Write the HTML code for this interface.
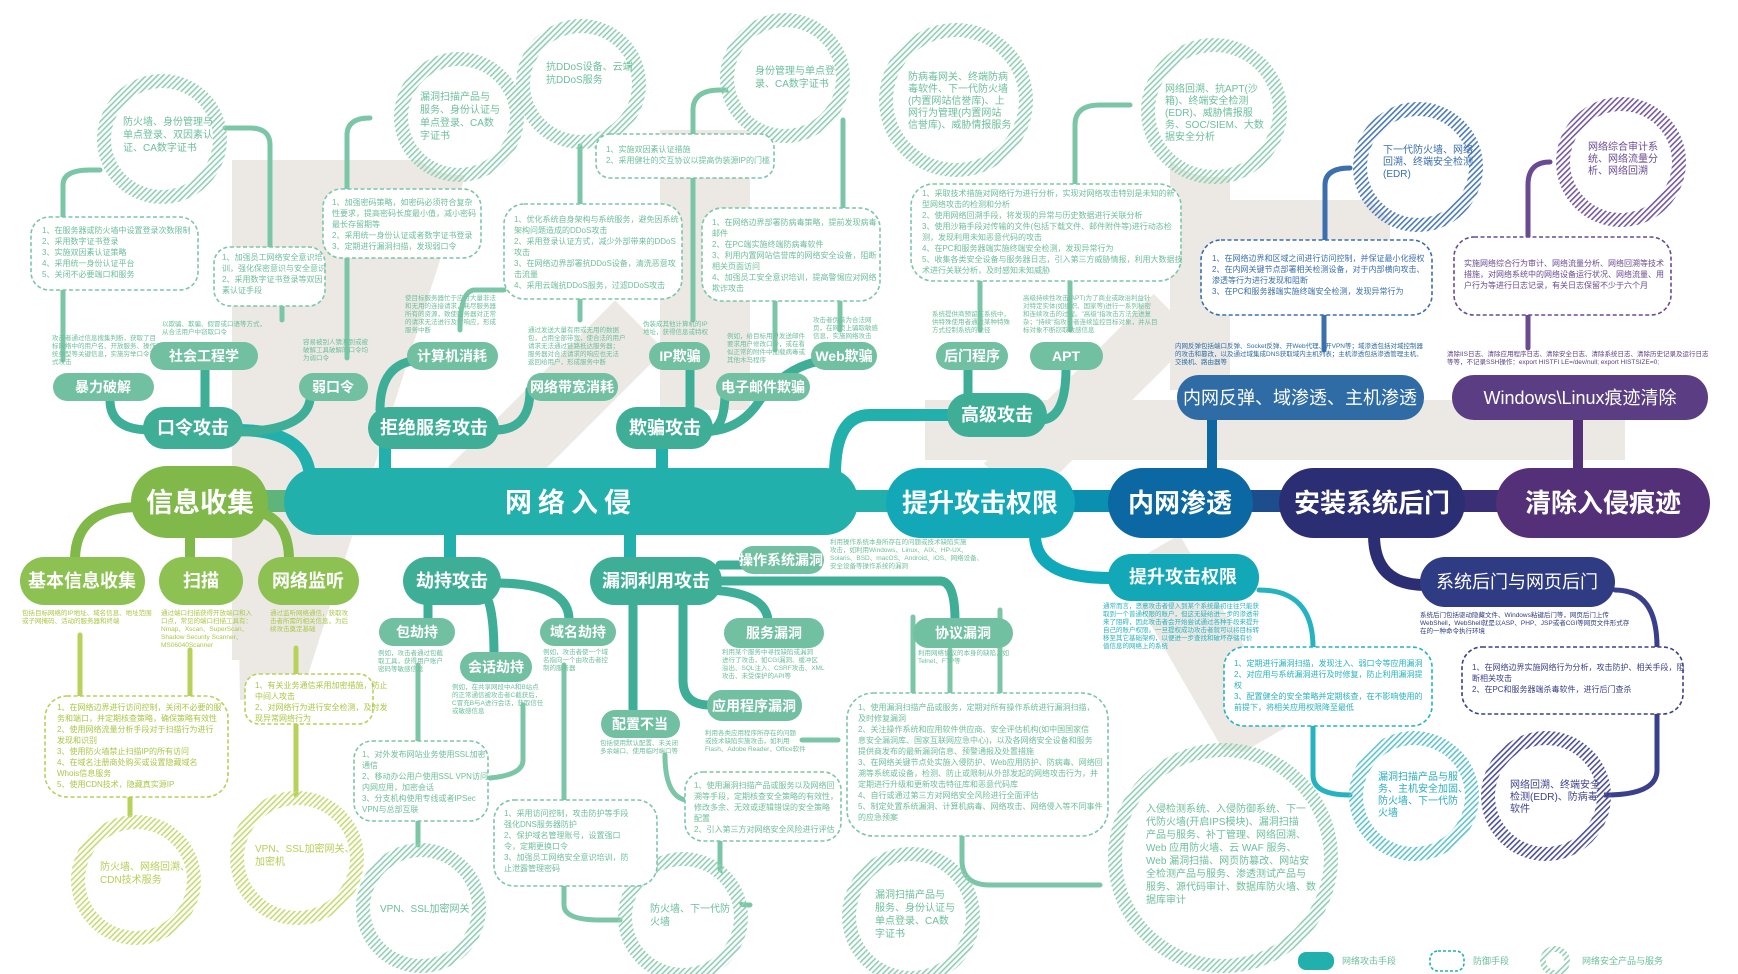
<!DOCTYPE html>
<html><head><meta charset="utf-8"><style>
html,body{margin:0;padding:0;background:#fff;}
svg{display:block;font-family:"Liberation Sans","Noto Sans CJK SC",sans-serif;}
.w{fill:#fff;text-anchor:middle;dominant-baseline:central;}
.d{font-size:6.5px;}
.b{font-size:8px;}
.c{font-size:10px;}
</style></head><body>
<svg width="1738" height="974" viewBox="0 0 1738 974" xmlns="http://www.w3.org/2000/svg">
<defs>
<pattern id="pg" width="4" height="4" patternUnits="userSpaceOnUse" patternTransform="rotate(45)"><rect width="1.6" height="4" fill="#8fcfb4"/></pattern>
<pattern id="py" width="4" height="4" patternUnits="userSpaceOnUse" patternTransform="rotate(45)"><rect width="1.6" height="4" fill="#c5db72"/></pattern>
<pattern id="pc" width="4" height="4" patternUnits="userSpaceOnUse" patternTransform="rotate(45)"><rect width="1.6" height="4" fill="#5fc3cc"/></pattern>
<pattern id="pb" width="4" height="4" patternUnits="userSpaceOnUse" patternTransform="rotate(45)"><rect width="1.6" height="4" fill="#4a7ab8"/></pattern>
<pattern id="pp" width="4" height="4" patternUnits="userSpaceOnUse" patternTransform="rotate(45)"><rect width="1.6" height="4" fill="#7557a0"/></pattern>
<pattern id="pn" width="4" height="4" patternUnits="userSpaceOnUse" patternTransform="rotate(45)"><rect width="1.6" height="4" fill="#4c4f98"/></pattern>
</defs>

<g fill="#ece9e5">
<rect x="232" y="160" width="60" height="500"/>
<polygon points="232,160 470,160 440,260 300,700 240,700"/>
<rect x="660" y="130" width="90" height="280"/>
<rect x="520" y="290" width="70" height="240" transform="rotate(45 555 410)"/>
<rect x="1170" y="130" width="60" height="260"/>
<rect x="1160" y="200" width="230" height="60"/>
<rect x="925" y="400" width="700" height="60"/>
<rect x="1060" y="280" width="60" height="240" transform="rotate(45 1090 400)"/>
<rect x="1170" y="540" width="70" height="220" transform="rotate(-30 1200 650)"/>
</g>

<g fill="none" stroke-linecap="round">
<rect x="850" y="490" width="660" height="22" fill="#22b0ad" stroke="none"/>
<rect x="1070" y="490" width="50" height="22" fill="#0b8fb0" stroke="none"/>
<rect x="1240" y="490" width="50" height="22" fill="#1e4d8e" stroke="none"/>
<rect x="1455" y="490" width="50" height="22" fill="#3a2f76" stroke="none"/>
<rect x="250" y="490" width="50" height="22" fill="#5fb47a" stroke="none"/>
<path d="M238 430 Q305 430 310 475" stroke="#22b0ad" stroke-width="12"/>
<path d="M385 440 L385 475" stroke="#22b0ad" stroke-width="12"/>
<path d="M662 440 L662 475" stroke="#22b0ad" stroke-width="12"/>
<path d="M950 415 L870 415 Q835 415 835 475" stroke="#22b0ad" stroke-width="12"/>
<path d="M1212 415 L1212 475" stroke="#0b68a2" stroke-width="10"/>
<path d="M1578 415 L1578 475" stroke="#533078" stroke-width="10"/>
<g stroke="#3fae97" stroke-width="9">
<path d="M110 400 Q110 430 150 430"/>
<path d="M205 368 L205 412"/>
<path d="M310 400 Q305 430 240 432"/>
<path d="M420 360 Q380 362 380 410"/>
<path d="M530 390 Q530 430 495 430"/>
<path d="M690 368 L690 412"/>
<path d="M725 392 Q725 432 705 432"/>
<path d="M830 360 Q790 362 760 400 Q740 432 700 432"/>
<path d="M968 368 L968 400"/>
<path d="M1066 368 Q1066 420 1040 420"/>
</g>
<path d="M140 507 Q75 507 75 560" stroke="#80b94a" stroke-width="10"/>
<path d="M190 535 L190 560" stroke="#80b94a" stroke-width="10"/>
<path d="M250 510 Q289 515 289 560" stroke="#80b94a" stroke-width="10"/>
<path d="M450 535 L450 560" stroke="#22b0ad" stroke-width="12"/>
<path d="M630 535 L630 560" stroke="#22b0ad" stroke-width="12"/>
<g stroke="#3fae97" stroke-width="9">
<path d="M428 600 L428 620"/>
<path d="M480 590 Q494 595 494 655"/>
<path d="M495 583 Q569 583 569 620"/>
<path d="M720 565 L745 565"/>
<path d="M720 581 L940 581 Q955 581 955 620"/>
<path d="M700 590 Q765 590 768 620"/>
<path d="M683 600 L683 680 Q683 705 710 705"/>
<path d="M633 600 L633 712"/>
</g>
<path d="M1035 535 Q1035 578 1110 578" stroke="#0fa9ba" stroke-width="12"/>
<path d="M1374 535 Q1374 585 1425 585" stroke="#2b2e73" stroke-width="12"/>
</g>

<g fill="none" stroke-width="5" stroke-linecap="round">
<g stroke="#7cc6a8">
<path d="M63 360 L63 290"/><path d="M63 217 L63 185 Q63 170 90 170 L100 170"/>
<path d="M282 320 L282 306"/><path d="M270 247 L270 145 Q270 128 250 128 L225 128"/>
<path d="M347 358 L347 258"/><path d="M347 189 L347 135 Q347 118 370 118"/>
<path d="M460 330 Q460 290 475 290 L504 290"/>
<path d="M580 320 L580 299"/><path d="M580 204 L580 146"/>
<path d="M693 320 L693 178"/><path d="M693 134 L693 110 Q693 90 720 90 L730 90"/>
<path d="M775 350 L775 301"/><path d="M840 330 L840 301"/><path d="M843 208 L843 120"/>
<path d="M980 330 L980 281"/><path d="M1070 330 L1070 281"/><path d="M1075 184 L1075 125 Q1075 105 1100 105 L1130 105"/>
<path d="M418 665 L418 741"/><path d="M523 705 L523 760 Q523 775 490 778"/>
<path d="M564 665 L564 800"/><path d="M564 886 L564 905 Q564 920 600 920 L620 920"/>
<path d="M418 821 L418 845"/>
<path d="M665 755 Q665 795 685 800"/><path d="M802 740 L838 740"/>
<path d="M1000 610 L1000 693"/><path d="M950 650 L950 693"/><path d="M913 617 L913 693"/>
<path d="M962 836 L962 860 Q962 885 990 885 L1100 885"/>
<path d="M720 841 L720 880 Q720 905 750 905"/>
</g>
<g stroke="#b6d25a">
<path d="M80 635 L80 696"/><path d="M190 650 L190 696"/><path d="M130 797 L130 815"/>
<path d="M296 648 L296 674"/><path d="M296 724 L296 795"/>
</g>
<path d="M1259 590 Q1313 590 1313 647" stroke="#25b3c0"/>
<path d="M1313 726 L1313 775 Q1313 795 1350 795" stroke="#25b3c0"/>
<path d="M1325 240 L1325 185 Q1325 168 1350 168" stroke="#3b6fae"/>
<path d="M1324 350 L1324 315" stroke="#3b6fae"/>
<path d="M1528 240 L1528 185 Q1528 162 1550 162" stroke="#6a4a93"/>
<path d="M1528 348 L1528 315" stroke="#6a4a93"/>
<path d="M1615 590 Q1657 590 1657 647" stroke="#3a3f8c"/>
<path d="M1657 714 L1657 770 Q1657 795 1605 795" stroke="#3a3f8c"/>
</g>

<g fill="#fff" stroke-width="14">
<circle cx="162" cy="139" r="58" stroke="url(#pg)"/>
<circle cx="459" cy="117" r="58" stroke="url(#pg)"/>
<circle cx="581" cy="84" r="58" stroke="url(#pg)"/>
<circle cx="785" cy="78" r="58" stroke="url(#pg)"/>
<circle cx="956" cy="100" r="70" stroke="url(#pg)"/>
<circle cx="1214" cy="111" r="66" stroke="url(#pg)"/>
<circle cx="1418" cy="167" r="58" stroke="url(#pb)"/>
<circle cx="1621" cy="162" r="58" stroke="url(#pp)"/>
<circle cx="136" cy="880" r="58" stroke="url(#py)"/>
<circle cx="297" cy="858" r="60" stroke="url(#py)"/>
<circle cx="421" cy="908" r="58" stroke="url(#pg)"/>
<circle cx="683" cy="917" r="58" stroke="url(#pg)"/>
<circle cx="911" cy="916" r="62" stroke="url(#pg)"/>
<circle cx="1223" cy="858" r="108" stroke="url(#pg)"/>
<circle cx="1414" cy="796" r="58" stroke="url(#pc)"/>
<circle cx="1546" cy="796" r="58" stroke="url(#pn)"/>
</g>
<g class="c" fill="#6cbf9c">
<text x="123" y="125"><tspan x="123">防火墙、身份管理与</tspan><tspan x="123" dy="13">单点登录、双因素认</tspan><tspan x="123" dy="13">证、CA数字证书</tspan></text>
<text x="420" y="100"><tspan x="420">漏洞扫描产品与</tspan><tspan x="420" dy="13">服务、身份认证与</tspan><tspan x="420" dy="13">单点登录、CA数</tspan><tspan x="420" dy="13">字证书</tspan></text>
<text x="546" y="70"><tspan x="546">抗DDoS设备、云端</tspan><tspan x="546" dy="13">抗DDoS服务</tspan></text>
<text x="755" y="74"><tspan x="755">身份管理与单点登</tspan><tspan x="755" dy="13">录、CA数字证书</tspan></text>
<text x="908" y="80"><tspan x="908">防病毒网关、终端防病</tspan><tspan x="908" dy="12">毒软件、下一代防火墙</tspan><tspan x="908" dy="12">(内置网站信誉库)、上</tspan><tspan x="908" dy="12">网行为管理(内置网站</tspan><tspan x="908" dy="12">信誉库)、威胁情报服务</tspan></text>
<text x="1165" y="92"><tspan x="1165">网络回溯、抗APT(沙</tspan><tspan x="1165" dy="12">箱)、终端安全检测</tspan><tspan x="1165" dy="12">(EDR)、威胁情报服</tspan><tspan x="1165" dy="12">务、SOC/SIEM、大数</tspan><tspan x="1165" dy="12">据安全分析</tspan></text>
<text x="100" y="870" fill="#b6cf55"><tspan x="100">防火墙、网络回溯、</tspan><tspan x="100" dy="13">CDN技术服务</tspan></text>
<text x="255" y="852" fill="#b6cf55"><tspan x="255">VPN、SSL加密网关、</tspan><tspan x="255" dy="13">加密机</tspan></text>
<text x="380" y="912">VPN、SSL加密网关</text>
<text x="650" y="912"><tspan x="650">防火墙、下一代防</tspan><tspan x="650" dy="13">火墙</tspan></text>
<text x="875" y="898"><tspan x="875">漏洞扫描产品与</tspan><tspan x="875" dy="13">服务、身份认证与</tspan><tspan x="875" dy="13">单点登录、CA数</tspan><tspan x="875" dy="13">字证书</tspan></text>
<text x="1146" y="812"><tspan x="1146">入侵检测系统、入侵防御系统、下一</tspan><tspan x="1146" dy="13">代防火墙(开启IPS模块)、漏洞扫描</tspan><tspan x="1146" dy="13">产品与服务、补丁管理、网络回溯、</tspan><tspan x="1146" dy="13">Web 应用防火墙、云 WAF 服务、</tspan><tspan x="1146" dy="13">Web 漏洞扫描、网页防篡改、网站安</tspan><tspan x="1146" dy="13">全检测产品与服务、渗透测试产品与</tspan><tspan x="1146" dy="13">服务、源代码审计、数据库防火墙、数</tspan><tspan x="1146" dy="13">据库审计</tspan></text>
<text x="1378" y="780" fill="#2aaebc"><tspan x="1378">漏洞扫描产品与服</tspan><tspan x="1378" dy="12">务、主机安全加固、</tspan><tspan x="1378" dy="12">防火墙、下一代防</tspan><tspan x="1378" dy="12">火墙</tspan></text>
<text x="1510" y="788" fill="#3d4290"><tspan x="1510">网络回溯、终端安全</tspan><tspan x="1510" dy="12">检测(EDR)、防病毒</tspan><tspan x="1510" dy="12">软件</tspan></text>
<text x="1383" y="153" fill="#3b6fae"><tspan x="1383">下一代防火墙、网络</tspan><tspan x="1383" dy="12">回溯、终端安全检测</tspan><tspan x="1383" dy="12">(EDR)</tspan></text>
<text x="1588" y="150" fill="#6a4a93"><tspan x="1588">网络综合审计系</tspan><tspan x="1588" dy="12">统、网络流量分</tspan><tspan x="1588" dy="12">析、网络回溯</tspan></text>
</g>

<g fill="#fff" stroke-width="1.6" stroke-dasharray="4 2.5">
<rect x="31" y="217" width="167" height="73" rx="18" stroke="#7cc6a8"/>
<rect x="214" y="247" width="111" height="59" rx="16" stroke="#7cc6a8"/>
<rect x="323" y="189" width="158" height="69" rx="18" stroke="#7cc6a8"/>
<rect x="504" y="204" width="178" height="95" rx="20" stroke="#7cc6a8"/>
<rect x="596" y="134" width="178" height="44" rx="14" stroke="#7cc6a8"/>
<rect x="702" y="208" width="178" height="93" rx="20" stroke="#7cc6a8"/>
<rect x="911" y="184" width="270" height="97" rx="22" stroke="#7cc6a8"/>
<rect x="1201" y="240" width="231" height="75" rx="20" stroke="#3b6fae"/>
<rect x="1454" y="237" width="217" height="78" rx="20" stroke="#6a4a93"/>
<rect x="45" y="696" width="183" height="101" rx="22" stroke="#b6d25a"/>
<rect x="245" y="674" width="128" height="50" rx="14" stroke="#b6d25a"/>
<rect x="354" y="741" width="134" height="80" rx="18" stroke="#7cc6a8"/>
<rect x="494" y="800" width="163" height="86" rx="20" stroke="#7cc6a8"/>
<rect x="685" y="772" width="156" height="69" rx="18" stroke="#7cc6a8"/>
<rect x="847" y="693" width="261" height="143" rx="26" stroke="#7cc6a8"/>
<rect x="1224" y="647" width="208" height="79" rx="20" stroke="#25b3c0"/>
<rect x="1462" y="647" width="221" height="67" rx="20" stroke="#3a3f8c"/>
</g>
<g class="b" fill="#6cbf9c">
<text x="42" y="233"><tspan x="42">1、在服务器或防火墙中设置登录次数限制</tspan><tspan x="42" dy="11">2、采用数字证书登录</tspan><tspan x="42" dy="11">3、实施双因素认证策略</tspan><tspan x="42" dy="11">4、采用统一身份认证平台</tspan><tspan x="42" dy="11">5、关闭不必要端口和服务</tspan></text>
<text x="222" y="260"><tspan x="222">1、加强员工网络安全意识培</tspan><tspan x="222" dy="11">训，强化保密意识与安全意识</tspan><tspan x="222" dy="11">2、采用数字证书登录等双因</tspan><tspan x="222" dy="11">素认证手段</tspan></text>
<text x="332" y="205"><tspan x="332">1、加强密码策略，如密码必须符合复杂</tspan><tspan x="332" dy="11">性要求，提高密码长度最小值，减小密码</tspan><tspan x="332" dy="11">最长存留期等</tspan><tspan x="332" dy="11">2、采用统一身份认证或者数字证书登录</tspan><tspan x="332" dy="11">3、定期进行漏洞扫描，发现弱口令</tspan></text>
<text x="514" y="222"><tspan x="514">1、优化系统自身架构与系统服务，避免因系统</tspan><tspan x="514" dy="11">架构问题造成的DDoS攻击</tspan><tspan x="514" dy="11">2、采用登录认证方式，减少外部带来的DDoS</tspan><tspan x="514" dy="11">攻击</tspan><tspan x="514" dy="11">3、在网络边界部署抗DDoS设备，清洗恶意攻</tspan><tspan x="514" dy="11">击流量</tspan><tspan x="514" dy="11">4、采用云端抗DDoS服务，过滤DDoS攻击</tspan></text>
<text x="606" y="152"><tspan x="606">1、实施双因素认证措施</tspan><tspan x="606" dy="11">2、采用健壮的交互协议以提高伪装源IP的门槛</tspan></text>
<text x="712" y="225"><tspan x="712">1、在网络边界部署防病毒策略，提前发现病毒</tspan><tspan x="712" dy="11">邮件</tspan><tspan x="712" dy="11">2、在PC端实施终端防病毒软件</tspan><tspan x="712" dy="11">3、利用内置网站信誉库的网络安全设备，阻断</tspan><tspan x="712" dy="11">相关页面访问</tspan><tspan x="712" dy="11">4、加强员工安全意识培训，提高警惕应对网络</tspan><tspan x="712" dy="11">欺诈攻击</tspan></text>
<text x="922" y="196"><tspan x="922">1、采取技术措施对网络行为进行分析，实现对网络攻击特别是未知的新</tspan><tspan x="922" dy="11">型网络攻击的检测和分析</tspan><tspan x="922" dy="11">2、使用网络回溯手段，将发现的异常与历史数据进行关联分析</tspan><tspan x="922" dy="11">3、使用沙箱手段对传输的文件(包括下载文件、邮件附件等)进行动态检</tspan><tspan x="922" dy="11">测，发现利用未知恶意代码的攻击</tspan><tspan x="922" dy="11">4、在PC和服务器端实施终端安全检测，发现异常行为</tspan><tspan x="922" dy="11">5、收集各类安全设备与服务器日志，引入第三方威胁情报，利用大数据技</tspan><tspan x="922" dy="11">术进行关联分析，及时感知未知威胁</tspan></text>
<text x="1212" y="261" fill="#3b6fae"><tspan x="1212">1、在网络边界和区域之间进行访问控制，并保证最小化授权</tspan><tspan x="1212" dy="11">2、在内网关键节点部署相关检测设备，对于内部横向攻击、</tspan><tspan x="1212" dy="11">渗透等行为进行发现和阻断</tspan><tspan x="1212" dy="11">3、在PC和服务器端实施终端安全检测，发现异常行为</tspan></text>
<text x="1464" y="266" fill="#6a4a93"><tspan x="1464">实施网络综合行为审计、网络流量分析、网络回溯等技术</tspan><tspan x="1464" dy="11">措施，对网络系统中的网络设备运行状况、网络流量、用</tspan><tspan x="1464" dy="11">户行为等进行日志记录，有关日志保留不少于六个月</tspan></text>
<text x="57" y="710" fill="#a8c845"><tspan x="57">1、在网络边界进行访问控制，关闭不必要的服</tspan><tspan x="57" dy="11">务和端口，并定期核查策略，确保策略有效性</tspan><tspan x="57" dy="11">2、使用网络流量分析手段对于扫描行为进行</tspan><tspan x="57" dy="11">发现和识别</tspan><tspan x="57" dy="11">3、使用防火墙禁止扫描IP的所有访问</tspan><tspan x="57" dy="11">4、在域名注册商处购买或设置隐藏域名</tspan><tspan x="57" dy="11">Whois信息服务</tspan><tspan x="57" dy="11">5、使用CDN技术，隐藏真实源IP</tspan></text>
<text x="255" y="688" fill="#a8c845"><tspan x="255">1、有关业务通信采用加密措施，防止</tspan><tspan x="255" dy="11">中间人攻击</tspan><tspan x="255" dy="11">2、对网络行为进行安全检测，及时发</tspan><tspan x="255" dy="11">现异常网络行为</tspan></text>
<text x="362" y="757"><tspan x="362">1、对外发布网站业务使用SSL加密</tspan><tspan x="362" dy="11">通信</tspan><tspan x="362" dy="11">2、移动办公用户使用SSL VPN访问</tspan><tspan x="362" dy="11">内网应用，加密会话</tspan><tspan x="362" dy="11">3、分支机构使用专线或者IPSec</tspan><tspan x="362" dy="11">VPN与总部互联</tspan></text>
<text x="504" y="816"><tspan x="504">1、采用访问控制，攻击防护等手段</tspan><tspan x="504" dy="11">强化DNS服务器防护</tspan><tspan x="504" dy="11">2、保护域名管理账号，设置强口</tspan><tspan x="504" dy="11">令，定期更换口令</tspan><tspan x="504" dy="11">3、加强员工网络安全意识培训，防</tspan><tspan x="504" dy="11">止泄露管理密码</tspan></text>
<text x="694" y="788"><tspan x="694">1、使用漏洞扫描产品或服务以及网络回</tspan><tspan x="694" dy="11">溯等手段，定期核查安全策略的有效性，</tspan><tspan x="694" dy="11">修改多余、无效或逻辑错误的安全策略</tspan><tspan x="694" dy="11">配置</tspan><tspan x="694" dy="11">2、引入第三方对网络安全风险进行评估</tspan></text>
<text x="858" y="710"><tspan x="858">1、使用漏洞扫描产品或服务，定期对所有操作系统进行漏洞扫描，</tspan><tspan x="858" dy="11">及时修复漏洞</tspan><tspan x="858" dy="11">2、关注操作系统和应用软件供应商、安全评估机构(如中国国家信</tspan><tspan x="858" dy="11">息安全漏洞库、国家互联网应急中心)，以及各网络安全设备和服务</tspan><tspan x="858" dy="11">提供商发布的最新漏洞信息、预警通报及处置措施</tspan><tspan x="858" dy="11">3、在网络关键节点处实施入侵防护、Web应用防护、防病毒、网络回</tspan><tspan x="858" dy="11">溯等系统或设备，检测、防止或限制从外部发起的网络攻击行为，并</tspan><tspan x="858" dy="11">定期进行升级和更新攻击特征库和恶意代码库</tspan><tspan x="858" dy="11">4、自行或通过第三方对网络安全风险进行全面评估</tspan><tspan x="858" dy="11">5、制定处置系统漏洞、计算机病毒、网络攻击、网络侵入等不同事件</tspan><tspan x="858" dy="11">的应急预案</tspan></text>
<text x="1234" y="666" fill="#25b3c0"><tspan x="1234">1、定期进行漏洞扫描，发现注入、弱口令等应用漏洞</tspan><tspan x="1234" dy="11">2、对应用与系统漏洞进行及时修复，防止利用漏洞提</tspan><tspan x="1234" dy="11">权</tspan><tspan x="1234" dy="11">3、配置健全的安全策略并定期核查，在不影响使用的</tspan><tspan x="1234" dy="11">前提下，将相关应用权限降至最低</tspan></text>
<text x="1472" y="670" fill="#3a3f8c"><tspan x="1472">1、在网络边界实施网络行为分析，攻击防护、相关手段，阻</tspan><tspan x="1472" dy="11">断相关攻击</tspan><tspan x="1472" dy="11">2、在PC和服务器端杀毒软件，进行后门查杀</tspan></text>
</g>

<g class="d" fill="#6cbf9c">
<text x="52" y="340"><tspan x="52">攻击者通过信息搜集判断，获取了目</tspan><tspan x="52" dy="8">标网络中的用户名、开放服务、操作系</tspan><tspan x="52" dy="8">统类型等关键信息，实施穷举口令方</tspan><tspan x="52" dy="8">式攻击</tspan></text>
<text x="162" y="326"><tspan x="162">以欺骗、欺骗、假冒或口语等方式，</tspan><tspan x="162" dy="8">从合法用户中窃取口令</tspan></text>
<text x="303" y="344"><tspan x="303">容易被别人猜测到或被</tspan><tspan x="303" dy="8">破解工具破解的口令均</tspan><tspan x="303" dy="8">为弱口令</tspan></text>
<text x="405" y="300"><tspan x="405">使目标服务器忙于应付大量非法</tspan><tspan x="405" dy="8">和无用的连接请求，耗尽服务器</tspan><tspan x="405" dy="8">所有的资源，致使服务器对正常</tspan><tspan x="405" dy="8">的请求无法进行及时响应，形成</tspan><tspan x="405" dy="8">服务中断</tspan></text>
<text x="528" y="332"><tspan x="528">通过发送大量有用或无用的数据</tspan><tspan x="528" dy="8">包，占用全部带宽，使合法的用户</tspan><tspan x="528" dy="8">请求无法通过链路抵达服务器；</tspan><tspan x="528" dy="8">服务器对合法请求的响应也无法</tspan><tspan x="528" dy="8">返回给用户，形成服务中断</tspan></text>
<text x="643" y="326"><tspan x="643">伪装成其他计算机的IP</tspan><tspan x="643" dy="8">地址，获得信息或特权</tspan></text>
<text x="727" y="338"><tspan x="727">例如，给目标用户发送邮件</tspan><tspan x="727" dy="8">要求用户修改口令，或在看</tspan><tspan x="727" dy="8">似正常的附件中加载病毒或</tspan><tspan x="727" dy="8">其他木马程序</tspan></text>
<text x="813" y="322"><tspan x="813">攻击者伪装为合法网</tspan><tspan x="813" dy="8">页，在网页上骗取敏感</tspan><tspan x="813" dy="8">信息，实施网络攻击</tspan></text>
<text x="932" y="316"><tspan x="932">系统提供商预留在系统中，</tspan><tspan x="932" dy="8">供特殊使用者通过某种特殊</tspan><tspan x="932" dy="8">方式控制系统的途径</tspan></text>
<text x="1023" y="300"><tspan x="1023">高级持续性攻击(APT)为了商业或政治利益针</tspan><tspan x="1023" dy="8">对特定实体(如组织、国家等)进行一系列秘密</tspan><tspan x="1023" dy="8">和连续攻击的过程。"高级"指攻击方法先进复</tspan><tspan x="1023" dy="8">杂；"持续"指攻击者连续监控目标对象，并从目</tspan><tspan x="1023" dy="8">标对象不断窃取敏感信息</tspan></text>
<text x="1175" y="348" fill="#2f6ba4"><tspan x="1175">内网反弹包括端口反弹、Socket反弹、开Web代理、开VPN等；域渗透包括对域控制器</tspan><tspan x="1175" dy="8">的攻击和篡改，以及通过域集成DNS获取域内主机列表；主机渗透包括渗透管理主机、</tspan><tspan x="1175" dy="8">交换机、路由器等</tspan></text>
<text x="1447" y="356" fill="#5b3d84"><tspan x="1447">清除IIS日志、清除应用程序日志、清除安全日志、清除系统日志、清除历史记录及运行日志</tspan><tspan x="1447" dy="8">等等，不记录SSH操作：export HISTFI LE=/dev/null; export HISTSIZE=0;</tspan></text>
<text x="22" y="615" fill="#a8c845"><tspan x="22">包括目标网络的IP地址、域名信息、地址范围</tspan><tspan x="22" dy="8">或子网掩码、活动的服务器和终端</tspan></text>
<text x="161" y="615" fill="#a8c845"><tspan x="161">通过端口扫描获得开放端口和入</tspan><tspan x="161" dy="8">口点，常见的端口扫描工具有：</tspan><tspan x="161" dy="8">Nmap、Xscan、SuperScan、</tspan><tspan x="161" dy="8">Shadow Security Scanner、</tspan><tspan x="161" dy="8">MS06040Scanner</tspan></text>
<text x="270" y="615" fill="#a8c845"><tspan x="270">通过监听网络通信，获取攻</tspan><tspan x="270" dy="8">击者所需的相关信息，为后</tspan><tspan x="270" dy="8">续攻击奠定基础</tspan></text>
<text x="378" y="655"><tspan x="378">例如，攻击者通过包截</tspan><tspan x="378" dy="8">取工具，获得用户账户</tspan><tspan x="378" dy="8">密码等敏感信息</tspan></text>
<text x="452" y="689"><tspan x="452">例如，在共享网段中A和B站点</tspan><tspan x="452" dy="8">的正常通信被攻击者C截获后，</tspan><tspan x="452" dy="8">C冒充B与A进行会话，获取信任</tspan><tspan x="452" dy="8">或敏感信息</tspan></text>
<text x="543" y="654"><tspan x="543">例如，攻击者使一个域</tspan><tspan x="543" dy="8">名指向一个由攻击者控</tspan><tspan x="543" dy="8">制的服务器</tspan></text>
<text x="830" y="544"><tspan x="830">利用操作系统本身所存在的问题或技术缺陷实施</tspan><tspan x="830" dy="8">攻击，如利用Windows、Linux、AIX、HP-UX、</tspan><tspan x="830" dy="8">Solaris、BSD、macOS、Android、iOS、网络设备、</tspan><tspan x="830" dy="8">安全设备等操作系统的漏洞</tspan></text>
<text x="722" y="654"><tspan x="722">利用某个服务中寻找缺陷或漏洞</tspan><tspan x="722" dy="8">进行了攻击，如CGI漏洞、缓冲区</tspan><tspan x="722" dy="8">溢出、SQL注入、CSRF攻击、XML</tspan><tspan x="722" dy="8">攻击、未受保护的API等</tspan></text>
<text x="918" y="655"><tspan x="918">利用网络协议的本身的缺陷，如</tspan><tspan x="918" dy="8">Telnet、FTP等</tspan></text>
<text x="705" y="735"><tspan x="705">利用各类应用程序所存在的问题</tspan><tspan x="705" dy="8">或技术缺陷实施攻击，如利用</tspan><tspan x="705" dy="8">Flash、Adobe Reader、Office软件</tspan></text>
<text x="600" y="745"><tspan x="600">包括使用默认配置、未关闭</tspan><tspan x="600" dy="8">多余端口、使用临时端口等</tspan></text>
<text x="1103" y="608" fill="#25b3c0"><tspan x="1103">通常而言，恶意攻击者侵入到某个系统最初往往只能获</tspan><tspan x="1103" dy="8">取到一个普通权限的账户，但这无疑给进一步的渗透带</tspan><tspan x="1103" dy="8">来了阻碍，因此攻击者会开始尝试通过各种手段来提升</tspan><tspan x="1103" dy="8">自己的账户权限。一旦提权成功攻击者就可以将目标转</tspan><tspan x="1103" dy="8">移至其它基础架构，以便进一步查找和破坏存储有价</tspan><tspan x="1103" dy="8">值信息的网络上的系统</tspan></text>
<text x="1420" y="617" fill="#2f3b82"><tspan x="1420">系统后门包括驱动隐藏文件、Windows粘键后门等，网页后门上传</tspan><tspan x="1420" dy="8">WebShell，WebShell就是以ASP、PHP、JSP或者CGI等网页文件形式存</tspan><tspan x="1420" dy="8">在的一种命令执行环境</tspan></text>
</g>

<rect x="131" y="466" width="137" height="72" rx="36" fill="#80b94a"/>
<text x="200" y="503" class="w" font-size="27" font-weight="bold">信息收集</text>
<rect x="284" y="468" width="574" height="67" rx="33" fill="#22b0ad"/>
<text x="571" y="503" class="w" font-size="27" font-weight="bold" letter-spacing="6">网络入侵</text>
<rect x="886" y="468" width="189" height="70" rx="35" fill="#12a8b7"/>
<text x="980" y="503" class="w" font-size="26" font-weight="bold">提升攻击权限</text>
<rect x="1108" y="468" width="145" height="70" rx="35" fill="#0b68a2"/>
<text x="1180" y="503" class="w" font-size="26" font-weight="bold">内网渗透</text>
<rect x="1279" y="468" width="186" height="70" rx="35" fill="#2b2e73"/>
<text x="1372" y="503" class="w" font-size="26" font-weight="bold">安装系统后门</text>
<rect x="1496" y="468" width="214" height="70" rx="35" fill="#533078"/>
<text x="1603" y="503" class="w" font-size="26" font-weight="bold">清除入侵痕迹</text>

<g font-size="18" font-weight="bold">
<rect x="143" y="407" width="100" height="42" rx="21" fill="#3fae97"/><text x="193" y="428" class="w">口令攻击</text>
<rect x="368" y="407" width="131" height="42" rx="21" fill="#3fae97"/><text x="434" y="428" class="w">拒绝服务攻击</text>
<rect x="616" y="407" width="97" height="42" rx="21" fill="#3fae97"/><text x="665" y="428" class="w">欺骗攻击</text>
<rect x="947" y="393" width="100" height="44" rx="22" fill="#3fae97"/><text x="997" y="415" class="w">高级攻击</text>
<rect x="1177" y="375" width="247" height="45" rx="22" fill="#2f6ba4"/><text x="1300" y="398" class="w" font-weight="normal">内网反弹、域渗透、主机渗透</text>
<rect x="1452" y="375" width="256" height="45" rx="22" fill="#5b3d84"/><text x="1580" y="398" class="w" font-weight="normal">Windows\Linux痕迹清除</text>
<rect x="20" y="557" width="125" height="48" rx="24" fill="#8dc152"/><text x="82" y="581" class="w">基本信息收集</text>
<rect x="159" y="557" width="84" height="48" rx="24" fill="#8dc152"/><text x="201" y="581" class="w">扫描</text>
<rect x="258" y="557" width="101" height="48" rx="24" fill="#8dc152"/><text x="308" y="581" class="w">网络监听</text>
<rect x="403" y="557" width="98" height="48" rx="24" fill="#3fae97"/><text x="452" y="581" class="w">劫持攻击</text>
<rect x="590" y="557" width="132" height="48" rx="24" fill="#3fae97"/><text x="656" y="581" class="w">漏洞利用攻击</text>
<rect x="1108" y="554" width="151" height="47" rx="23" fill="#12a8b7"/><text x="1183" y="577" class="w">提升攻击权限</text>
<rect x="1420" y="557" width="195" height="50" rx="25" fill="#2f3b82"/><text x="1517" y="582" class="w" font-weight="normal">系统后门与网页后门</text>
</g>
<g font-size="14" font-weight="bold">
<rect x="53" y="373" width="101" height="28" rx="14" fill="#72c0a2"/><text x="103" y="387" class="w">暴力破解</text>
<rect x="150" y="342" width="108" height="28" rx="14" fill="#72c0a2"/><text x="204" y="356" class="w">社会工程学</text>
<rect x="299" y="373" width="69" height="28" rx="14" fill="#72c0a2"/><text x="333" y="387" class="w">弱口令</text>
<rect x="407" y="342" width="91" height="28" rx="14" fill="#72c0a2"/><text x="452" y="356" class="w">计算机消耗</text>
<rect x="527" y="373" width="91" height="28" rx="14" fill="#72c0a2"/><text x="572" y="387" class="w">网络带宽消耗</text>
<rect x="649" y="342" width="61" height="28" rx="14" fill="#72c0a2"/><text x="680" y="356" class="w">IP欺骗</text>
<rect x="716" y="373" width="94" height="28" rx="14" fill="#72c0a2"/><text x="763" y="387" class="w">电子邮件欺骗</text>
<rect x="811" y="342" width="66" height="28" rx="14" fill="#72c0a2"/><text x="844" y="356" class="w">Web欺骗</text>
<rect x="936" y="342" width="72" height="28" rx="14" fill="#72c0a2"/><text x="972" y="356" class="w">后门程序</text>
<rect x="1030" y="342" width="73" height="28" rx="14" fill="#72c0a2"/><text x="1066" y="356" class="w">APT</text>
<rect x="739" y="546" width="85" height="28" rx="14" fill="#72c0a2"/><text x="781" y="560" class="w">操作系统漏洞</text>
<rect x="379" y="618" width="76" height="28" rx="14" fill="#72c0a2"/><text x="417" y="632" class="w">包劫持</text>
<rect x="460" y="652" width="72" height="30" rx="15" fill="#72c0a2"/><text x="496" y="667" class="w">会话劫持</text>
<rect x="540" y="618" width="76" height="28" rx="14" fill="#72c0a2"/><text x="578" y="632" class="w">域名劫持</text>
<rect x="724" y="618" width="100" height="30" rx="15" fill="#72c0a2"/><text x="774" y="633" class="w">服务漏洞</text>
<rect x="913" y="618" width="100" height="30" rx="15" fill="#72c0a2"/><text x="963" y="633" class="w">协议漏洞</text>
<rect x="707" y="690" width="95" height="31" rx="15" fill="#72c0a2"/><text x="754" y="706" class="w">应用程序漏洞</text>
<rect x="601" y="710" width="79" height="28" rx="14" fill="#72c0a2"/><text x="640" y="724" class="w">配置不当</text>
</g>

<rect x="1298" y="952" width="36" height="18" rx="8" fill="#22b0ad"/>
<text x="1342" y="964" font-size="9" fill="#6cbf9c">网络攻击手段</text>
<rect x="1430" y="951" width="34" height="20" rx="8" fill="#fff" stroke="#22b0ad" stroke-width="1.6" stroke-dasharray="3 2"/>
<text x="1473" y="964" font-size="9" fill="#6cbf9c">防御手段</text>
<circle cx="1555" cy="961" r="12" fill="#fff" stroke="url(#pg)" stroke-width="6"/>
<text x="1582" y="964" font-size="9" fill="#6cbf9c">网络安全产品与服务</text>
</svg>
</body></html>
